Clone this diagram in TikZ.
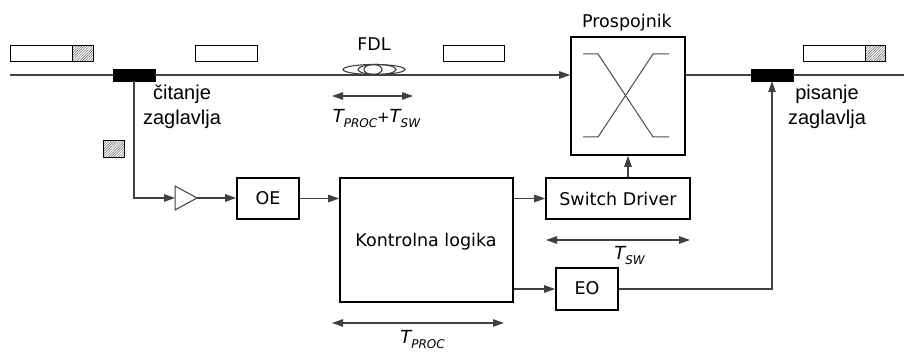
\documentclass[tikz,border=0pt]{standalone}
\usepackage{fontspec}
\setmainfont{DejaVu Sans}
\newfontfamily\labelfont{Liberation Sans}
\usetikzlibrary{arrows.meta,patterns.meta}

% italic T with a lowered subscript, as used in the delay labels
\newcommand\Tdelay[1]{{\fontsize{18}{18}\selectfont\itshape T}\raisebox{-5pt}{\fontsize{12}{12}\selectfont\itshape #1}}

\begin{document}
\begin{tikzpicture}[x=1pt,y=-1pt,
  conn/.style={draw=black!75,line width=1.1pt},
  arr/.style={conn,-{Triangle[length=11pt,width=7.5pt]}},
  span/.style={conn,{Triangle[length=11pt,width=7.5pt]}-{Triangle[length=11pt,width=7.5pt]}},
  blk/.style={draw=black,line width=1.6pt,fill=white,inner sep=0pt,font=\fontsize{17.5}{20}\selectfont},
  txt/.style={inner sep=0pt,anchor=base,font=\fontsize{17.5}{20}\selectfont},
  side/.style={inner sep=0pt,anchor=base,align=center,font=\labelfont\fontsize{20}{25}\selectfont},
  pkt/.style={draw=black,line width=1pt,fill=white},
  hatch/.style={draw=black,line width=1pt,pattern={Lines[angle=45,distance=1.8pt,line width=0.45pt]},pattern color=black!65},
  tap/.style={fill=black,draw=black,inner sep=0pt,minimum width=42pt,minimum height=12pt}
]
\useasboundingbox (0,0) rectangle (904,352);

% packets on the fibre
\draw[pkt] (10,46) rectangle (93,62);
\draw[hatch] (72,46) rectangle (93,62);
\draw[pkt] (195,46) rectangle (257,62);
\draw[pkt] (443,46) rectangle (504,62);
\draw[pkt] (803,46) rectangle (885,62);
\draw[hatch] (865,46) rectangle (885,62);
% extracted header
\draw[hatch] (103,141) rectangle (124,158);

% header taps and optical switch
\node[tap] (rd) at (134,75) {};
\node[tap] (wr) at (772,75) {};
\node[blk,minimum width=114pt,minimum height=118pt] (sw) at (628,96) {};
\node[txt] (swlbl) at (627,28) {Prospojnik};

% crossbar symbol inside the switch
\draw[draw=black!70,line width=1pt] (583,54) -- (598,54) -- (653,137) -- (669,137);
\draw[draw=black!70,line width=1pt] (583,137) -- (598,137) -- (653,54) -- (669,54);

% fibre delay line
\draw[conn] (374,69.5) ellipse [x radius=31pt, y radius=5pt];
\draw[conn] (377,69.5) ellipse [x radius=19pt, y radius=5pt];
\draw[conn] (373,69.5) ellipse [x radius=9pt, y radius=5pt];
\node[txt] (fdl) at (374,51) {FDL};

% main fibre
\coordinate (fin) at (10,75);
\coordinate (fout) at (904,75);
\draw[conn] (fin) -- (rd.west);
\draw[arr] (rd.east) -- (rd.east -| sw.west);
\draw[conn] (sw.east |- wr.west) -- (wr.west);
\draw[conn] (wr.east) -- (fout);

% electronic control path
\node[blk,minimum width=62pt,minimum height=41pt] (oe) at (268,198.5) {};
\node[txt] at (268,205) {OE};
\node[blk,minimum width=173pt,minimum height=124pt] (ctl) at (426.5,240) {};
\node[txt] at (426,247) {Kontrolna logika};
\node[blk,minimum width=144pt,minimum height=41pt] (drv) at (618,198.5) {};
\node[txt] at (618,206) {Switch Driver};
\node[blk,minimum width=62pt,minimum height=42pt] (eo) at (587,289) {};
\node[txt] at (587,295) {EO};

% amplifier
\coordinate (ampin) at (175,198);
\coordinate (ampout) at (197,198);
\draw[draw=black!75,line width=1pt,fill=white] (175,186) -- (197,198) -- (175,210) -- cycle;

\draw[arr] (rd.south) |- (ampin);
\draw[arr] (ampout) -- (ampout -| oe.west);
\draw[arr] (oe.east) -- (oe.east -| ctl.west);
\draw[arr] (ctl.east |- drv.west) -- (drv.west);
\draw[arr] (ctl.east |- eo.west) -- (eo.west);
\draw[arr] (eo.east) -| (wr.south);
\draw[arr] (sw.south |- drv.north) -- (sw.south);

% side labels
\node[side] (rdlbl) at (182,125) {čitanje\\zaglavlja};
\node[side] (wrlbl) at (827,125) {pisanje\\zaglavlja};

% delay spans
\coordinate (d1a) at (332,96);
\coordinate (d1b) at (413,96);
\draw[span] (d1a) -- (d1b);
\node[inner sep=0pt,anchor=base] (d1lbl) at (376.5,123) {\Tdelay{PROC}{\fontsize{15}{15}\selectfont\itshape +}\Tdelay{SW}};

\coordinate (d2a) at (546,240);
\coordinate (d2b) at (690,240);
\draw[span] (d2a) -- (d2b);
\node[inner sep=0pt,anchor=base] (d2lbl) at (629.5,260) {\Tdelay{SW}};

\coordinate (d3a) at (332,323);
\coordinate (d3b) at (504,323);
\draw[span] (d3a) -- (d3b);
\node[inner sep=0pt,anchor=base] (d3lbl) at (422.5,343) {\Tdelay{PROC}};
\end{tikzpicture}
\end{document}
